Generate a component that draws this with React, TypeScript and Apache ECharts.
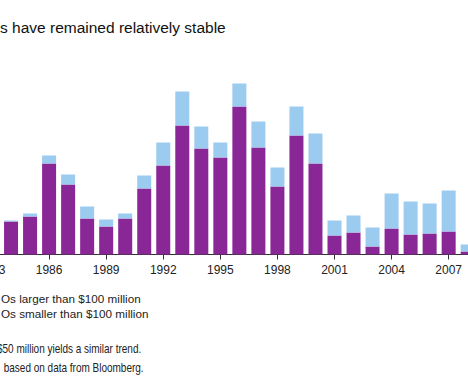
import React, { useEffect, useRef } from "react";
import * as echarts from "echarts";

const years = [
  "1983", "1984", "1985", "1986", "1987", "1988", "1989", "1990", "1991", "1992",
  "1993", "1994", "1995", "1996", "1997", "1998", "1999", "2000", "2001", "2002",
  "2003", "2004", "2005", "2006", "2007", "2008",
];
const smallerIPOs = [
  60, 33, 38, 91, 70, 36, 28, 36, 66, 89, 129, 106, 97, 148, 107, 68, 119, 91, 19, 22,
  8, 26, 20, 21, 23, 3,
];
const largerIPOs = [
  5, 1, 3, 8, 10, 12, 7, 5, 13, 23, 34, 22, 15, 23, 26, 19, 29, 30, 15, 17, 19, 35,
  33, 30, 41, 7,
];

const titleText = "s have remained relatively stable";
const legendLarger = "Os larger than $100 million";
const legendSmaller = "Os smaller than $100 million";
const note1 = "$50 million yields a similar trend.";
const note2 = " based on data from Bloomberg.";

const PURPLE = "#8A2797";
const LIGHT = "#9BCBEF";
const PAD = 40; // hidden overflow on each side of the visible page

export default function App() {
  const ref = useRef<HTMLDivElement>(null);
  useEffect(() => {
    if (!ref.current) return;
    const chart = echarts.init(ref.current, null, { renderer: "svg" });
    const font = "'Liberation Sans', Arial, Helvetica, sans-serif";
    chart.setOption({
      animation: false,
      backgroundColor: "#ffffff",
      grid: { left: PAD - 17.5, right: PAD - 9.2, top: 54.5, bottom: 136.5, containLabel: false },
      xAxis: {
        type: "category",
        data: years,
        axisLine: { show: true, lineStyle: { color: "#333333", width: 1 } },
        axisTick: { show: true, interval: 2, alignWithLabel: true, length: 5, lineStyle: { color: "#333333" } },
        axisLabel: { interval: 2, color: "#222222", fontSize: 12, fontFamily: font, margin: 9 },
      },
      yAxis: { type: "value", min: 0, max: 200, show: false, splitLine: { show: false } },
      series: [
        {
          name: "IPOs smaller than $100 million",
          type: "bar",
          stack: "ipo",
          data: smallerIPOs,
          barWidth: 14,
          itemStyle: { color: PURPLE },
        },
        {
          name: "IPOs larger than $100 million",
          type: "bar",
          stack: "ipo",
          data: largerIPOs,
          barWidth: 14,
          itemStyle: { color: LIGHT },
        },
      ],
      graphic: [
        { type: "text", x: PAD, y: 27, style: { text: titleText, fontSize: 15.5, fontFamily: font, fill: "#111111", verticalAlign: "middle" } },
        { type: "text", x: PAD + 1, y: 298, style: { text: legendLarger, fontSize: 11.7, fontFamily: font, fill: "#222222", verticalAlign: "middle" } },
        { type: "text", x: PAD + 1, y: 313, style: { text: legendSmaller, fontSize: 11.7, fontFamily: font, fill: "#222222", verticalAlign: "middle" } },
        { type: "text", x: PAD - 3, y: 349, scaleX: 0.8, style: { text: note1, fontSize: 12.5, fontFamily: font, fill: "#222222", verticalAlign: "middle" } },
        { type: "text", x: PAD + 1, y: 368, scaleX: 0.8, style: { text: note2, fontSize: 12.5, fontFamily: font, fill: "#222222", verticalAlign: "middle" } },
      ],
    });
    return () => chart.dispose();
  }, []);
  return (
    <div style={{ position: "fixed", left: 0, top: 0, width: 468, height: 391, overflow: "hidden", background: "#fff" }}>
      <div
        ref={ref}
        style={{ position: "absolute", left: -PAD, top: 0, width: 468 + 2 * PAD, height: 391 }}
      />
    </div>
  );
}
